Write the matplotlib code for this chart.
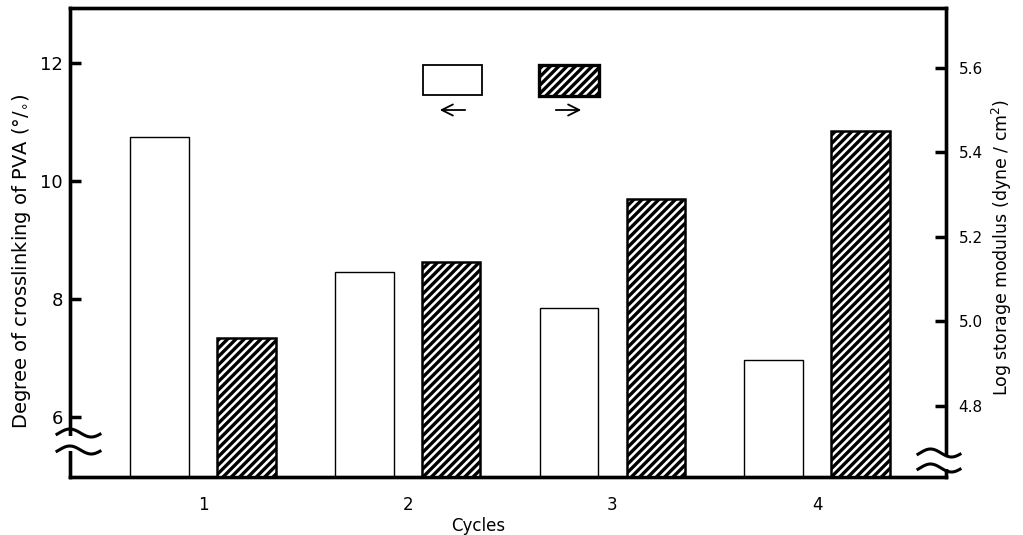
import numpy as np
import matplotlib
matplotlib.use("Agg")
import matplotlib.pyplot as plt
from matplotlib.patches import Rectangle, FancyArrowPatch

# ---- data ----
cycles = [1, 2, 3, 4]
crosslinking = [10.75, 8.46, 7.84, 6.96]      # left axis (%)
log_modulus = [4.96, 5.14, 5.29, 5.45]         # right axis, log(dyne/cm^2)
left_ticks = [6, 8, 10, 12]
right_ticks = [4.8, 5.0, 5.2, 5.4, 5.6]
right_ticklabels = ["4.8", "5.0", "5.2", "5.4", "5.6"]

plt.rcParams['font.family'] = ['DejaVu Sans']
plt.rcParams['hatch.linewidth'] = 2.4
plt.rcParams['hatch.color'] = 'black'

W, H = 1023, 535
fig = plt.figure(figsize=(W / 100, H / 100), dpi=100)
ax = fig.add_axes([70 / W, 1 - 477 / H, 876 / W, 469 / H])
ax2 = ax.twinx()

bw = 0.286
off = 0.212
x = np.array(cycles, dtype=float)

ax.bar(x - off, crosslinking, width=bw, bottom=0, facecolor='white',
       edgecolor='black', linewidth=1.0, zorder=2)
ax2.bar(x + off, log_modulus, width=bw, bottom=0, facecolor='white',
        edgecolor='black', linewidth=1.8, hatch='////', zorder=2)

ax.set_xlim(0.35, 4.63)
ax.set_ylim(4.98, 12.94)
ax2.set_ylim(4.631, 5.741)

ax.set_xticks(cycles)
ax.set_xticklabels([str(c) for c in cycles], fontsize=12)
ax.tick_params(axis='x', length=0, pad=14)
ax.set_yticks(left_ticks)
ax.set_yticklabels([str(t) for t in left_ticks], fontsize=13)
ax.tick_params(axis='y', direction='in', length=8, width=2.5, pad=5)
ax2.set_yticks(right_ticks)
ax2.set_yticklabels(right_ticklabels, fontsize=11)
ax2.tick_params(axis='y', direction='in', length=8, width=2.5, pad=9)

for a in (ax, ax2):
    for s in a.spines.values():
        s.set_linewidth(2.4)

ax.set_xlabel("Cycles", fontsize=12)
ax.xaxis.set_label_coords(0.466, -0.085)
ax.set_ylabel("Degree of crosslinking of PVA (°/$_{\\circ}$)", fontsize=14)
ax.yaxis.set_label_coords(-0.042, 0.46)
ax2.set_ylabel("Log storage modulus (dyne / cm$^2$)", fontsize=12.5, rotation=90)
ax2.yaxis.set_label_coords(1.05, 0.49)


# ---- axis break marks ----
def fig_xy(px, py):
    return px / W, 1 - py / H


def break_marks(x0, x1, ys, spine_x):
    gx, gy = fig_xy(spine_x - 4, ys[1] + 1)
    fig.patches.append(Rectangle((gx, gy), 8 / W, (ys[1] - ys[0] - 2) / H,
                                 transform=fig.transFigure, facecolor='white',
                                 edgecolor='none', zorder=10))
    t = np.linspace(0, 1, 60)
    for yy in ys:
        px = x0 + (x1 - x0) * t
        py = yy - 4 * np.sin(2 * np.pi * t - 0.3)
        fx, fy = fig_xy(px, py)
        fig.add_artist(plt.Line2D(fx, fy, color='black', lw=2.2, zorder=11,
                                  transform=fig.transFigure))


break_marks(57, 100, [433, 450], 70.5)
break_marks(918, 960, [453, 468], 946.5)

# ---- key (boxes with arrows) ----
bx, by = fig_xy(423, 95)
fig.patches.append(Rectangle((bx, by), 59 / W, 30 / H, transform=fig.transFigure,
                             facecolor='white', edgecolor='black', lw=1.3))
hx, hy = fig_xy(539, 96)
fig.patches.append(Rectangle((hx, hy), 60 / W, 31 / H, transform=fig.transFigure,
                             facecolor='white', edgecolor='black', lw=2.4,
                             hatch='////'))
fig.add_artist(FancyArrowPatch(
    fig_xy(468, 110), fig_xy(437, 110), transform=fig.transFigure,
    arrowstyle='->,head_length=8,head_width=4', lw=1.3, color='black',
    mutation_scale=1))
fig.add_artist(FancyArrowPatch(
    fig_xy(553, 110), fig_xy(584, 110), transform=fig.transFigure,
    arrowstyle='->,head_length=8,head_width=4', lw=1.3, color='black',
    mutation_scale=1))

fig.savefig("out.png", dpi=100)
